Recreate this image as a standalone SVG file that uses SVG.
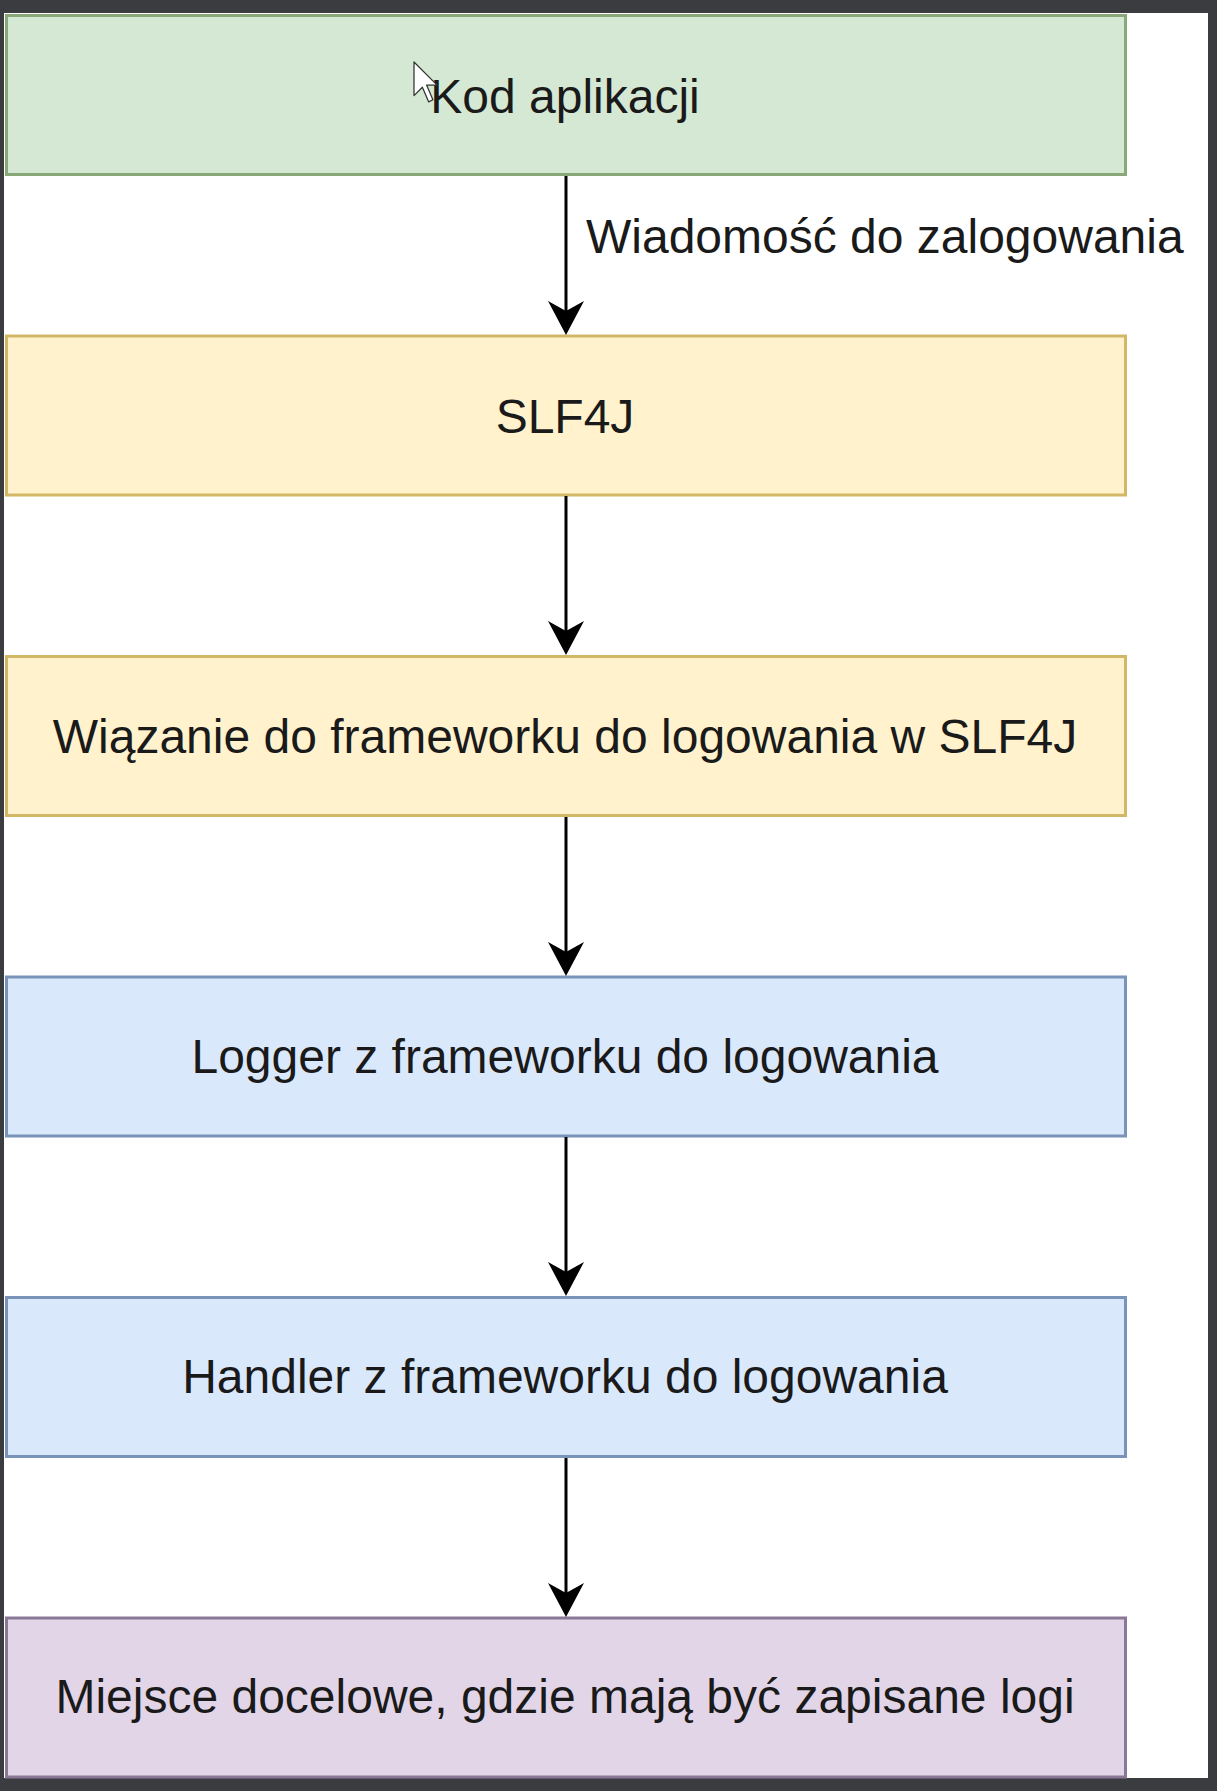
<svg xmlns="http://www.w3.org/2000/svg" width="1217" height="1791" viewBox="0 0 1217 1791">
  <style>
    .box { stroke-width: 3; }
    .green { fill: #d5e8d4; stroke: #88a877; }
    .yellow { fill: #fff2cc; stroke: #d2b866; }
    .blue { fill: #dae8fc; stroke: #7a93b8; }
    .purple { fill: #e1d5e7; stroke: #8b7896; }
    .lbl { font-family: "Liberation Sans", Arial, sans-serif; font-size: 48px; fill: #1a1a1a; text-anchor: middle; }
    .edge-lbl { font-family: "Liberation Sans", Arial, sans-serif; font-size: 48px; fill: #1a1a1a; }
    .conn { stroke: #000; stroke-width: 3; fill: none; }
    .head { fill: #000; stroke: none; }
  </style>
  <defs>
    <path id="arrowhead" class="head" d="M0,0 L-18,-34 L0,-24 L18,-34 Z"/>
  </defs>
  <rect x="0" y="0" width="1217" height="1791" fill="#3b3c3f"/>
  <rect x="4" y="13" width="1204" height="1765" fill="#ffffff"/>

  <g id="node-kod">
    <rect class="box green" x="6.5" y="15.5" width="1119" height="159"/>
    <text class="lbl" x="565" y="113">Kod aplikacji</text>
  </g>
  <g id="node-slf4j">
    <rect class="box yellow" x="6.5" y="336" width="1119" height="159"/>
    <text class="lbl" x="565" y="433">SLF4J</text>
  </g>
  <g id="node-wiazanie">
    <rect class="box yellow" x="6.5" y="656.5" width="1119" height="159"/>
    <text class="lbl" x="565" y="753">Wiązanie do frameworku do logowania w SLF4J</text>
  </g>
  <g id="node-logger">
    <rect class="box blue" x="6.5" y="977" width="1119" height="159"/>
    <text class="lbl" x="565" y="1073">Logger z frameworku do logowania</text>
  </g>
  <g id="node-handler">
    <rect class="box blue" x="6.5" y="1297.5" width="1119" height="159"/>
    <text class="lbl" x="565" y="1393">Handler z frameworku do logowania</text>
  </g>
  <g id="node-miejsce">
    <rect class="box purple" x="6.5" y="1618" width="1119" height="159"/>
    <text class="lbl" x="565" y="1713">Miejsce docelowe, gdzie mają być zapisane logi</text>
  </g>

  <g id="connectors">
    <line class="conn" x1="566" y1="176" x2="566" y2="312"/>
    <use href="#arrowhead" x="566" y="335"/>
    <text class="edge-lbl" x="586" y="253">Wiadomość do zalogowania</text>

    <line class="conn" x1="566" y1="496" x2="566" y2="632"/>
    <use href="#arrowhead" x="566" y="655"/>

    <line class="conn" x1="566" y1="817" x2="566" y2="953"/>
    <use href="#arrowhead" x="566" y="976"/>

    <line class="conn" x1="566" y1="1137" x2="566" y2="1273"/>
    <use href="#arrowhead" x="566" y="1296"/>

    <line class="conn" x1="566" y1="1458" x2="566" y2="1594"/>
    <use href="#arrowhead" x="566" y="1617"/>
  </g>

  <path d="M0,0 L0,16 L4,12 L7,19 L9,18 L6,11 L11,11 Z" transform="translate(414,62) scale(2.1)" fill="#ffffff" stroke="#333333" stroke-width="0.6" stroke-linejoin="round"/>
</svg>
